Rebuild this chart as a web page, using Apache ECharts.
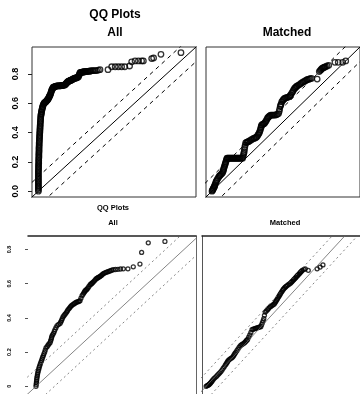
<!DOCTYPE html>
<html><head><meta charset="utf-8">
<script src="https://cdn.jsdelivr.net/npm/echarts@6/dist/echarts.min.js"></script>
<style>html,body{margin:0;padding:0;background:#fff}#c{width:360px;height:394px}</style>
</head><body><div id="c"></div>
<script>
// ---- data ----
const tickValues = [0, 0.2, 0.4, 0.6, 0.8];
const topTickLabels = ['0.0', '0.2', '0.4', '0.6', '0.8'];
const bottomTickLabels = ['0', '0.2', '0.4', '0.6', '0.8'];
const titleTop = 'QQ Plots';
const panelNames = ['All', 'Matched'];

// [control quantile, treated quantile]
const allQQ = [[0,0],[0,0.01],[0,0.02],[0,0.03],[0,0.04],[0,0.05],[0,0.06],[0,0.07],[0,0.08],[0,0.09],[0,0.1],[0,0.11],[0,0.12],[0,0.13],[0,0.14],[0.001,0.15],[0.001,0.16],[0.001,0.17],[0.001,0.18],[0.002,0.19],[0.002,0.2],[0.002,0.21],[0.002,0.22],[0.003,0.23],[0.003,0.24],[0.003,0.25],[0.003,0.26],[0.004,0.27],[0.004,0.28],[0.004,0.29],[0.004,0.3],[0.005,0.31],[0.005,0.32],[0.005,0.33],[0.006,0.34],[0.006,0.35],[0.007,0.36],[0.007,0.37],[0.008,0.38],[0.008,0.39],[0.009,0.4],[0.009,0.41],[0.01,0.42],[0.01,0.43],[0.011,0.44],[0.011,0.45],[0.012,0.46],[0.012,0.47],[0.013,0.48],[0.014,0.49],[0.014,0.5],[0.015,0.51],[0.016,0.52],[0.017,0.525],[0.018,0.53],[0.019,0.54],[0.02,0.545],[0.022,0.555],[0.023,0.56],[0.025,0.57],[0.027,0.575],[0.028,0.58],[0.03,0.59],[0.033,0.595],[0.035,0.6],[0.038,0.603],[0.04,0.605],[0.043,0.608],[0.046,0.61],[0.049,0.614],[0.052,0.618],[0.055,0.621],[0.058,0.625],[0.061,0.63],[0.063,0.635],[0.066,0.64],[0.068,0.645],[0.07,0.65],[0.072,0.655],[0.075,0.66],[0.077,0.668],[0.079,0.675],[0.081,0.682],[0.083,0.69],[0.086,0.695],[0.088,0.7],[0.091,0.705],[0.093,0.71],[0.097,0.711],[0.1,0.712],[0.105,0.715],[0.108,0.716],[0.112,0.718],[0.116,0.719],[0.12,0.72],[0.124,0.72],[0.128,0.72],[0.132,0.72],[0.135,0.72],[0.139,0.72],[0.143,0.721],[0.147,0.722],[0.15,0.722],[0.154,0.723],[0.158,0.724],[0.162,0.725],[0.166,0.726],[0.169,0.73],[0.172,0.733],[0.175,0.737],[0.177,0.74],[0.18,0.743],[0.182,0.745],[0.185,0.748],[0.187,0.75],[0.19,0.752],[0.193,0.753],[0.196,0.754],[0.198,0.755],[0.2,0.757],[0.203,0.758],[0.206,0.759],[0.208,0.76],[0.212,0.763],[0.216,0.765],[0.22,0.768],[0.225,0.77],[0.228,0.772],[0.232,0.773],[0.236,0.774],[0.24,0.775],[0.245,0.778],[0.25,0.78],[0.253,0.79],[0.255,0.795],[0.258,0.803],[0.26,0.81],[0.264,0.811],[0.268,0.812],[0.272,0.813],[0.275,0.813],[0.279,0.814],[0.283,0.815],[0.287,0.816],[0.29,0.816],[0.295,0.817],[0.3,0.817],[0.305,0.818],[0.31,0.819],[0.315,0.82],[0.32,0.82],[0.325,0.821],[0.33,0.822],[0.338,0.823],[0.345,0.824],[0.355,0.824],[0.364,0.824],[0.375,0.827],[0.385,0.83],[0.435,0.83],[0.458,0.85],[0.48,0.85],[0.5,0.85],[0.52,0.85],[0.54,0.85],[0.57,0.855],[0.583,0.884],[0.604,0.89],[0.625,0.89],[0.645,0.89],[0.656,0.89],[0.708,0.906],[0.72,0.91],[0.766,0.935],[0.891,0.946]];

const matchedQQ = [[0,0],[0.003,0.005],[0.005,0.01],[0.008,0.015],[0.01,0.02],[0.013,0.025],[0.016,0.03],[0.018,0.037],[0.02,0.045],[0.024,0.055],[0.027,0.065],[0.031,0.072],[0.035,0.08],[0.041,0.09],[0.047,0.1],[0.051,0.105],[0.055,0.11],[0.061,0.116],[0.068,0.122],[0.072,0.131],[0.075,0.14],[0.077,0.148],[0.079,0.157],[0.082,0.166],[0.085,0.175],[0.087,0.183],[0.089,0.19],[0.092,0.2],[0.095,0.21],[0.098,0.218],[0.1,0.225],[0.105,0.225],[0.11,0.225],[0.115,0.225],[0.12,0.225],[0.125,0.225],[0.13,0.225],[0.135,0.225],[0.14,0.225],[0.145,0.225],[0.15,0.225],[0.155,0.225],[0.16,0.225],[0.165,0.225],[0.17,0.225],[0.175,0.225],[0.18,0.225],[0.185,0.225],[0.19,0.225],[0.197,0.225],[0.204,0.225],[0.207,0.238],[0.21,0.25],[0.212,0.26],[0.214,0.27],[0.216,0.285],[0.218,0.3],[0.221,0.315],[0.224,0.33],[0.23,0.333],[0.235,0.335],[0.24,0.338],[0.245,0.34],[0.252,0.345],[0.26,0.35],[0.268,0.355],[0.277,0.36],[0.283,0.362],[0.29,0.365],[0.295,0.369],[0.3,0.373],[0.305,0.382],[0.31,0.39],[0.314,0.398],[0.318,0.407],[0.321,0.418],[0.325,0.43],[0.327,0.44],[0.329,0.45],[0.334,0.454],[0.34,0.457],[0.345,0.46],[0.35,0.464],[0.355,0.472],[0.36,0.48],[0.365,0.49],[0.37,0.5],[0.375,0.505],[0.38,0.51],[0.385,0.515],[0.39,0.52],[0.398,0.52],[0.405,0.52],[0.412,0.52],[0.42,0.52],[0.428,0.522],[0.435,0.525],[0.443,0.53],[0.447,0.545],[0.45,0.56],[0.454,0.578],[0.457,0.587],[0.46,0.595],[0.464,0.61],[0.47,0.618],[0.475,0.625],[0.48,0.63],[0.485,0.635],[0.492,0.638],[0.5,0.64],[0.508,0.643],[0.516,0.646],[0.52,0.653],[0.525,0.66],[0.531,0.67],[0.537,0.68],[0.542,0.69],[0.548,0.7],[0.553,0.705],[0.558,0.71],[0.563,0.715],[0.568,0.72],[0.576,0.725],[0.585,0.73],[0.592,0.736],[0.6,0.742],[0.607,0.746],[0.615,0.75],[0.622,0.755],[0.63,0.76],[0.637,0.763],[0.645,0.765],[0.653,0.768],[0.662,0.77],[0.7,0.766],[0.714,0.817],[0.72,0.824],[0.725,0.83],[0.73,0.835],[0.735,0.84],[0.74,0.843],[0.745,0.845],[0.75,0.848],[0.756,0.85],[0.766,0.855],[0.777,0.86],[0.818,0.88],[0.84,0.88],[0.87,0.88],[0.89,0.89]];

const allQQ2 = [[0,0],[0.001,0.01],[0.002,0.02],[0.003,0.03],[0.004,0.04],[0.005,0.05],[0.007,0.06],[0.008,0.07],[0.01,0.08],[0.012,0.09],[0.015,0.1],[0.017,0.11],[0.02,0.12],[0.023,0.13],[0.026,0.14],[0.03,0.15],[0.033,0.16],[0.036,0.17],[0.04,0.18],[0.043,0.19],[0.047,0.2],[0.05,0.212],[0.054,0.225],[0.06,0.232],[0.065,0.24],[0.07,0.248],[0.076,0.255],[0.079,0.265],[0.082,0.275],[0.084,0.284],[0.086,0.293],[0.09,0.302],[0.095,0.31],[0.099,0.321],[0.103,0.332],[0.108,0.343],[0.114,0.355],[0.122,0.362],[0.13,0.368],[0.134,0.376],[0.138,0.385],[0.142,0.395],[0.146,0.406],[0.151,0.413],[0.156,0.42],[0.161,0.427],[0.166,0.434],[0.17,0.442],[0.175,0.45],[0.18,0.456],[0.184,0.462],[0.188,0.468],[0.193,0.473],[0.199,0.478],[0.205,0.482],[0.21,0.486],[0.216,0.49],[0.222,0.493],[0.228,0.495],[0.233,0.498],[0.238,0.501],[0.243,0.515],[0.249,0.53],[0.254,0.538],[0.258,0.545],[0.262,0.552],[0.265,0.558],[0.269,0.562],[0.273,0.565],[0.277,0.57],[0.281,0.575],[0.286,0.584],[0.292,0.593],[0.296,0.597],[0.3,0.6],[0.304,0.604],[0.308,0.608],[0.313,0.614],[0.318,0.62],[0.323,0.626],[0.328,0.631],[0.333,0.634],[0.337,0.637],[0.342,0.64],[0.346,0.642],[0.35,0.646],[0.355,0.65],[0.36,0.655],[0.364,0.659],[0.37,0.662],[0.376,0.665],[0.382,0.668],[0.389,0.67],[0.396,0.673],[0.403,0.676],[0.41,0.679],[0.418,0.682],[0.43,0.683],[0.443,0.684],[0.457,0.686],[0.472,0.687],[0.497,0.687],[0.526,0.699],[0.562,0.715],[0.571,0.783],[0.607,0.839],[0.697,0.847]];

const matchedQQ2 = [[0,0],[0.005,0.003],[0.01,0.005],[0.015,0.008],[0.019,0.011],[0.024,0.015],[0.028,0.02],[0.033,0.025],[0.037,0.03],[0.043,0.037],[0.05,0.045],[0.057,0.051],[0.065,0.058],[0.072,0.065],[0.08,0.072],[0.087,0.079],[0.094,0.086],[0.101,0.095],[0.108,0.105],[0.115,0.114],[0.122,0.124],[0.127,0.131],[0.132,0.138],[0.137,0.145],[0.141,0.152],[0.148,0.157],[0.155,0.162],[0.162,0.166],[0.169,0.171],[0.174,0.178],[0.178,0.185],[0.183,0.192],[0.188,0.199],[0.195,0.208],[0.202,0.218],[0.209,0.228],[0.216,0.237],[0.223,0.242],[0.23,0.246],[0.237,0.25],[0.244,0.255],[0.249,0.26],[0.254,0.265],[0.258,0.27],[0.263,0.274],[0.27,0.287],[0.277,0.3],[0.284,0.315],[0.291,0.331],[0.298,0.334],[0.305,0.336],[0.312,0.338],[0.319,0.34],[0.326,0.343],[0.333,0.345],[0.34,0.347],[0.347,0.349],[0.352,0.36],[0.357,0.372],[0.362,0.384],[0.366,0.396],[0.37,0.415],[0.375,0.434],[0.382,0.441],[0.39,0.448],[0.396,0.455],[0.403,0.462],[0.41,0.467],[0.418,0.472],[0.425,0.477],[0.432,0.481],[0.437,0.488],[0.441,0.495],[0.446,0.502],[0.451,0.509],[0.455,0.516],[0.46,0.523],[0.464,0.53],[0.469,0.537],[0.473,0.544],[0.478,0.551],[0.483,0.558],[0.488,0.565],[0.492,0.57],[0.497,0.575],[0.502,0.58],[0.507,0.584],[0.514,0.589],[0.521,0.594],[0.528,0.599],[0.535,0.603],[0.54,0.608],[0.544,0.612],[0.549,0.617],[0.554,0.621],[0.558,0.626],[0.563,0.63],[0.568,0.635],[0.572,0.64],[0.577,0.645],[0.582,0.65],[0.587,0.655],[0.592,0.659],[0.596,0.664],[0.6,0.668],[0.605,0.673],[0.61,0.678],[0.62,0.683],[0.629,0.687],[0.648,0.678],[0.704,0.687],[0.723,0.697],[0.741,0.71]];

// reference lines y = x + offset
const topOffsets = [0, 0.1, -0.1];
const bottomLeftOffsets = [0, 0.1, -0.1];
const bottomRightOffsets = [0, 0.08, -0.08];

// ---- chart ----
const chart = echarts.init(document.getElementById('c'), null, {renderer: 'canvas'});
const FONT = 'Liberation Sans, Arial, sans-serif';

function labelFor(labels) {
  return function (v) {
    for (let i = 0; i < tickValues.length; i++) if (Math.abs(tickValues[i] - v) < 1e-6) return labels[i];
    return '';
  };
}
function refLines(offsets, xIdx, yIdx, color, width, dash) {
  return offsets.map(d => ({
    type: 'line', xAxisIndex: xIdx, yAxisIndex: yIdx, clip: true, silent: true,
    symbol: 'none', data: [[-1, -1 + d], [2, 2 + d]],
    lineStyle: {color: color, width: width, type: d === 0 ? 'solid' : dash}
  }));
}
function points(data, xIdx, yIdx, size, bw) {
  return {
    type: 'scatter', xAxisIndex: xIdx, yAxisIndex: yIdx, clip: true, data: data,
    symbol: 'circle', symbolSize: size,
    itemStyle: {color: 'rgba(0,0,0,0)', borderColor: '#000', borderWidth: bw}
  };
}
const titleStyle = (size) => ({fontSize: size, fontWeight: 'bold', color: '#000', fontFamily: FONT});
const hiddenX = (i, min, max) => ({type: 'value', gridIndex: i, min: min, max: max, show: false});
const borderAxis = (color, width) => ({show: true, onZero: false, lineStyle: {color: color, width: width}});

const option = {
  animation: false,
  backgroundColor: '#fff',
  title: [
    {text: titleTop, left: 115, top: 9, textAlign: 'center', padding: 0, textStyle: titleStyle(12)},
    {text: panelNames[0], left: 115, top: 27, textAlign: 'center', padding: 0, textStyle: titleStyle(12)},
    {text: panelNames[1], left: 287, top: 27, textAlign: 'center', padding: 0, textStyle: titleStyle(12)},
    {text: titleTop, left: 113, top: 204, textAlign: 'center', padding: 0, textStyle: titleStyle(7.5)},
    {text: panelNames[0], left: 113, top: 219, textAlign: 'center', padding: 0, textStyle: titleStyle(7.5)},
    {text: panelNames[1], left: 285, top: 219, textAlign: 'center', padding: 0, textStyle: titleStyle(7.5)}
  ],
  grid: [
    {left: 32, top: 47, width: 164, height: 150, show: true, borderColor: '#333', borderWidth: 1},
    {left: 206, top: 47, width: 164, height: 150, show: true, borderColor: '#333', borderWidth: 1},
    {left: 28, top: 236, width: 168, height: 164},
    {left: 202, top: 236, width: 178, height: 164}
  ],
  xAxis: [
    hiddenX(0, -0.04, 0.985),
    hiddenX(1, -0.04, 0.985),
    {type: 'value', gridIndex: 2, min: -0.0432, max: 0.865, position: 'top',
     axisLine: borderAxis('#222', 1.5), axisTick: {show: false}, axisLabel: {show: false}, splitLine: {show: false}},
    {type: 'value', gridIndex: 3, min: -0.026, max: 0.976, position: 'top',
     axisLine: borderAxis('#222', 1.5), axisTick: {show: false}, axisLabel: {show: false}, splitLine: {show: false}}
  ],
  yAxis: [
    {type: 'value', gridIndex: 0, min: -0.04, max: 0.985,
     axisLine: {show: false, onZero: false}, splitLine: {show: false},
     axisTick: {show: true, length: 4, customValues: tickValues, lineStyle: {color: '#222'}},
     axisLabel: {customValues: tickValues, rotate: 90, margin: 12, fontSize: 9, fontWeight: 'bold', color: '#000', fontFamily: FONT, formatter: labelFor(topTickLabels)}},
    {type: 'value', gridIndex: 1, min: -0.04, max: 0.985, show: false},
    {type: 'value', gridIndex: 2, min: -0.045, max: 0.879,
     axisLine: {show: false, onZero: false}, splitLine: {show: false},
     axisTick: {show: true, length: 3, customValues: tickValues, lineStyle: {color: '#555'}},
     axisLabel: {customValues: tickValues, rotate: 90, margin: 16, fontSize: 5.5, fontWeight: 'bold', color: '#111', fontFamily: FONT, formatter: labelFor(bottomTickLabels)}},
    {type: 'value', gridIndex: 2, min: -0.045, max: 0.879, position: 'right',
     axisLine: borderAxis('#666', 1), axisTick: {show: false}, axisLabel: {show: false}, splitLine: {show: false}},
    {type: 'value', gridIndex: 3, min: -0.045, max: 0.879,
     axisLine: borderAxis('#555', 1), axisTick: {show: false}, axisLabel: {show: false}, splitLine: {show: false}}
  ],
  series: [].concat(
    refLines(topOffsets, 0, 0, '#000', 1, [4, 4]),
    [points(allQQ, 0, 0, 5.5, 1.3)],
    refLines(topOffsets, 1, 1, '#000', 1, [4, 4]),
    [points(matchedQQ, 1, 1, 5.5, 1.3)],
    refLines(bottomLeftOffsets, 2, 2, '#666', 0.8, [2, 3]),
    [points(allQQ2, 2, 2, 4, 1.3)],
    refLines(bottomRightOffsets, 3, 4, '#666', 0.8, [2, 3]),
    [points(matchedQQ2, 3, 4, 4, 1.3)]
  )
};
chart.setOption(option);
</script>
</body></html>
